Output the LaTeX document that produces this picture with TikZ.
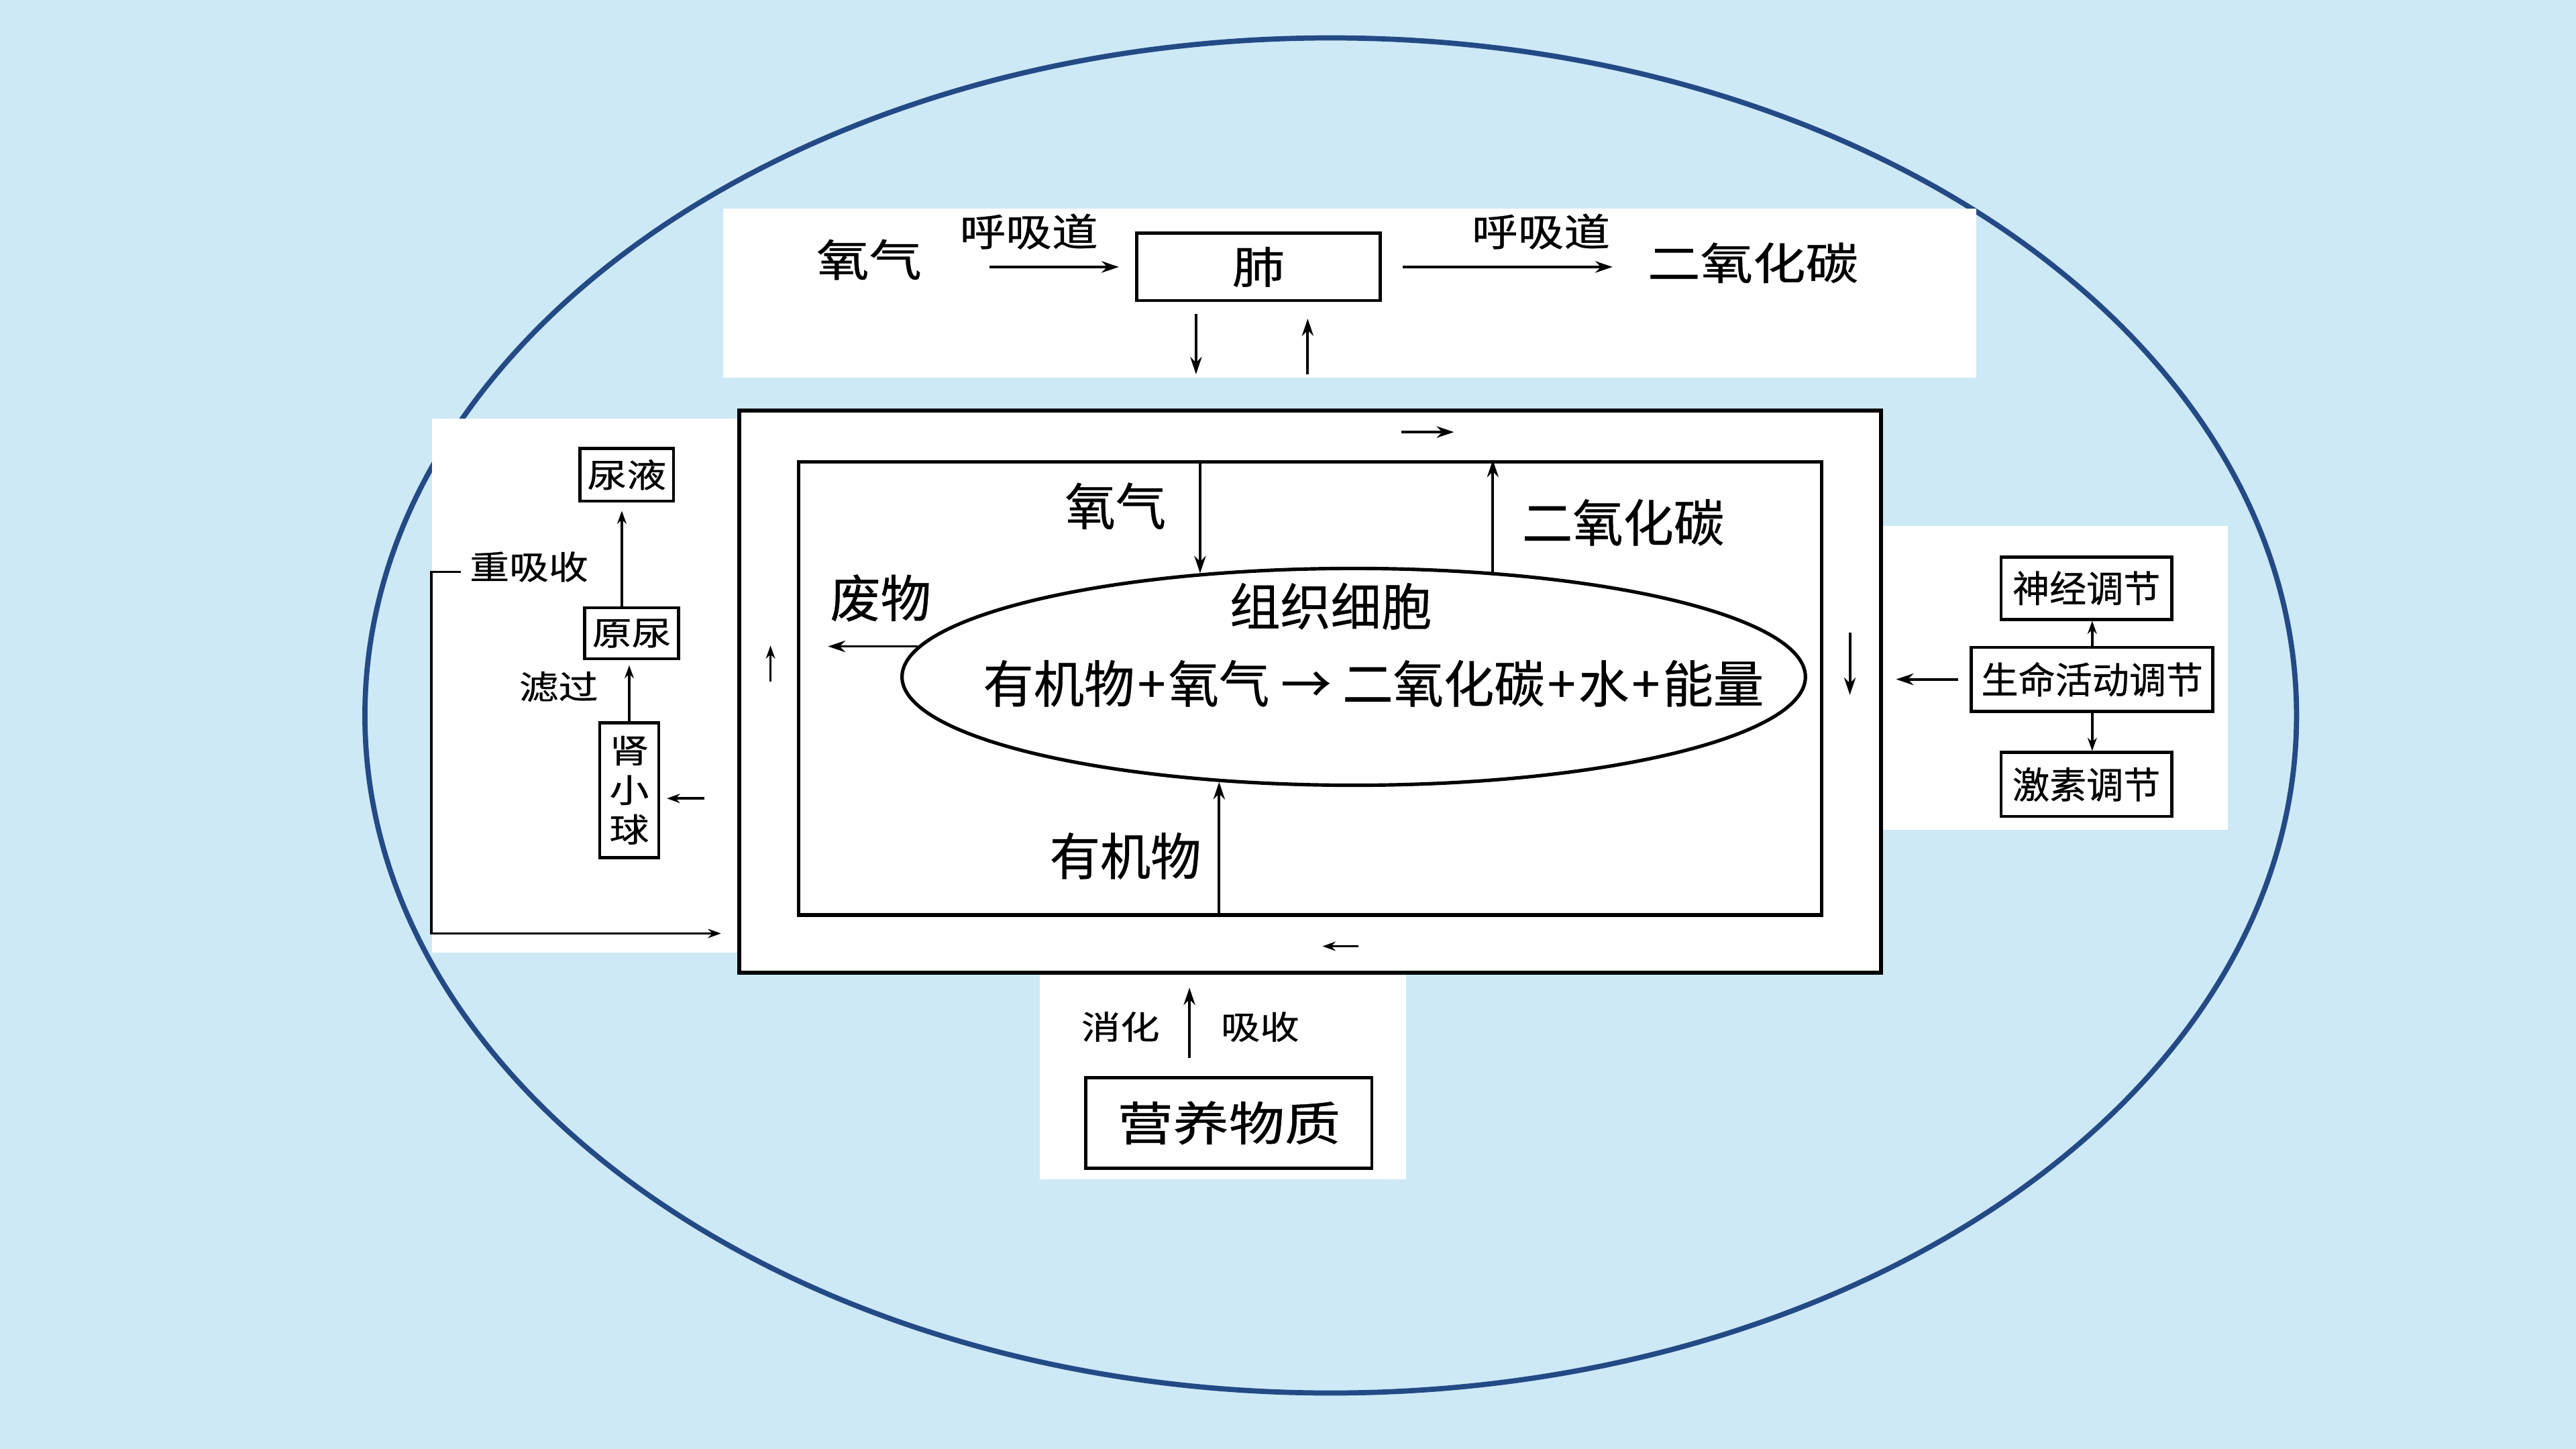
\documentclass[tikz,border=0pt]{standalone}
\usepackage{fontspec}
\setmainfont{Noto Sans CJK SC}[FakeBold=0.5]
\newfontfamily\cjkwide{Noto Sans CJK SC}[FakeStretch=1.2, FakeBold=0.6]
\usetikzlibrary{arrows.meta, positioning, shapes.geometric}
\definecolor{skyback}{RGB}{205,233,246}
\definecolor{rimblue}{RGB}{36,74,134}

\begin{document}
\begin{tikzpicture}[x=0.02cm, y=0.02cm,
  box/.style={rectangle, draw, line width=1.1pt, inner sep=0pt, align=center},
  toplbl/.style={inner sep=0pt, font=\cjkwide\fontsize{15.2}{18}\selectfont},
  breathlbl/.style={inner sep=0pt, font=\cjkwide\fontsize{13.3}{16}\selectfont},
  sidelbl/.style={inner sep=0pt, font=\cjkwide\fontsize{11.4}{13.7}\selectfont},
  lbl/.style={inner sep=0pt, font=\fontsize{17.5}{20}\selectfont},
  rightlbl/.style={inner sep=0pt, font=\fontsize{12.8}{15}\selectfont},
  botlbl/.style={inner sep=0pt, font=\cjkwide\fontsize{11.3}{13}\selectfont},
  arr/.style={-{Stealth[length=6pt, width=4pt]}, line width=0.9pt},
  small/.style={-{Stealth[length=4.5pt, width=3.2pt]}, line width=0.8pt},
]
\fill[skyback] (0,0) rectangle (1568,882);
\useasboundingbox (0,0) rectangle (1568,882);
\draw[rimblue, line width=1.8pt] (810,446.5) ellipse [x radius=11.76cm, y radius=8.25cm];

% white panels
\fill[white] (440,652) rectangle (1203,755);
\fill[white] (263,302) rectangle (450,627);
\fill[white] (1145,377) rectangle (1356,562);
\fill[white] (633,164) rectangle (856,290);

% blood and tissue fluid
\node[draw, line width=1.4pt, fill=white, minimum width=13.9cm, minimum height=6.84cm] (body) at (797.5,461) {};
\node[draw, line width=1.2pt, minimum width=12.46cm, minimum height=5.52cm] (tissue) at (797.5,463) {};
\node[draw, ellipse, line width=1.2pt, minimum width=11cm, minimum height=2.64cm] (cell) at (824,470) {};

\node[lbl] (cellname) at (810,513) {组织细胞};
\node[lbl] (eqn) at (836,466) {有机物\kern1pt+\kern1pt氧气\ →\ 二氧化碳\kern1pt+\kern1pt水\kern1pt+\kern1pt能量};
\node[lbl] (o2in) at (679,574) {氧气};
\node[lbl] (co2in) at (988,564) {二氧化碳};
\node[lbl] (waste) at (536,518) {废物};
\node[lbl] (food) at (685,361) {有机物};

\draw[arr] (cell.146.6 |- tissue.north) -- (cell.146.6);
\draw[arr] (cell.37.5) -- (cell.37.5 |- tissue.north);
\draw[arr, shorten >=0.38cm] (cell.176) -- (cell.176 -| tissue.west);
\draw[arr] (cell.218.2 |- tissue.south) -- (cell.218.2);

\coordinate (flowtop) at (853,619);
\coordinate (flowright) at (1126,497);
\coordinate (flowbottom) at (827,306);
\coordinate (flowleft) at (469,467);
\draw[arr] (flowtop) -- ++(32,0);
\draw[arr] (flowright) -- ++(0,-38);
\draw[small] (flowbottom) -- ++(-22,0);
\draw[small] (flowleft) -- ++(0,22);

% lungs
\node[box, toplbl, minimum width=2.96cm, minimum height=0.82cm] (lung) at (766,719.5) {肺};
\node[toplbl] (o2air) at (529,724) {氧气};
\node[toplbl] (co2air) at (1067,722) {二氧化碳};
\draw[arr, shorten <=0.82cm, shorten >=0.2cm] (o2air.east |- lung.west) -- (lung.west)
  node[midway, above=0.2cm, breathlbl] (airin) {呼吸道};
\draw[arr, shorten <=0.26cm, shorten >=0.42cm] (lung.east) -- (co2air.west |- lung.east)
  node[pos=0.6, above=0.2cm, breathlbl] (airout) {呼吸道};
\draw[arr, shorten <=0.14cm, shorten >=0.42cm] ([xshift=-0.76cm]lung.south) -- ([xshift=-0.76cm]lung.south |- body.north);
\draw[arr, shorten <=0.42cm, shorten >=0.2cm] ([xshift=0.6cm]lung.south |- body.north) -- ([xshift=0.6cm]lung.south);

% kidney
\node[box, sidelbl, minimum width=1.14cm, minimum height=0.64cm] (urine) at (381.5,593) {尿液};
\node[box, sidelbl, minimum width=1.14cm, minimum height=0.62cm] (prime) at (384.5,496.5) {原尿};
\node[box, sidelbl, minimum width=0.72cm, minimum height=1.64cm] (glom) at (383,401) {肾\\小\\球};
\node[sidelbl] (reabs) at (322,537) {重吸收};
\node[sidelbl] (filt) at (340,464) {滤过};
\draw[small, shorten >=0.1cm] ([xshift=-0.12cm]prime.north) -- ([xshift=-0.12cm]prime.north |- urine.south);
\draw[small, shorten >=0.06cm] (glom.north) -- (glom.north |- prime.south);
\draw[small, shorten <=0.4cm, shorten >=0.08cm] ([yshift=-0.1cm]glom.east -| body.west) -- ([yshift=-0.1cm]glom.east);
\draw[small, shorten >=0.2cm] ([yshift=-0.06cm, xshift=-0.1cm]reabs.west) -- ++(-18,0) |- ([yshift=0.5cm]body.south west);

% regulation
\node[box, rightlbl, minimum width=2.08cm, minimum height=0.76cm] (nerve) at (1270,524) {神经调节};
\node[box, rightlbl, minimum width=2.94cm, minimum height=0.78cm] (life) at (1273.5,468.5) {生命活动调节};
\node[box, rightlbl, minimum width=2.08cm, minimum height=0.78cm] (hormone) at (1270,404.5) {激素调节};
\draw[small] (life.north) -- (life.north |- nerve.south);
\draw[small] (life.south) -- (life.south |- hormone.north);
\draw[arr, shorten <=0.14cm, shorten >=0.16cm] (life.west) -- (life.west -| body.east);

% nutrients
\node[box, minimum width=3.48cm, minimum height=1.1cm, font=\cjkwide\fontsize{16.1}{19}\selectfont] (nutri) at (748,198.5) {营养物质};
\node[botlbl] (digest) at (682,257) {消化};
\node[botlbl] (absorb) at (767,257) {吸收};
\draw[arr, shorten <=0.22cm, shorten >=0.16cm] ([xshift=-0.48cm]nutri.north) -- ([xshift=-0.48cm]nutri.north |- body.south);
\end{tikzpicture}
\end{document}
